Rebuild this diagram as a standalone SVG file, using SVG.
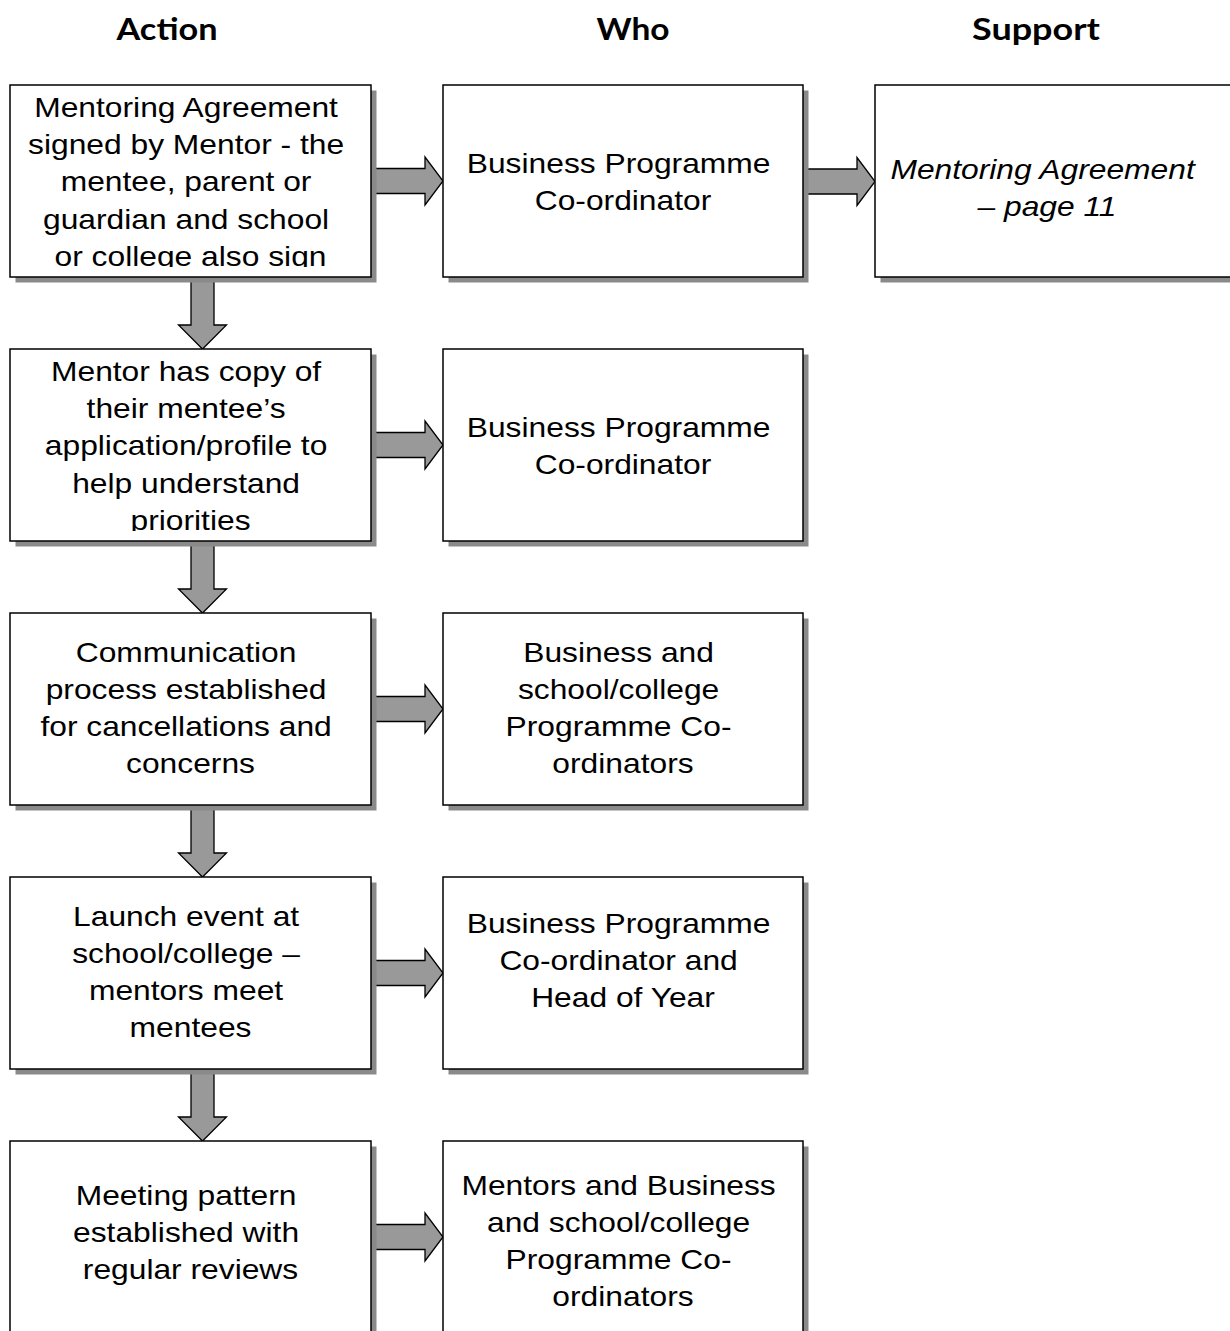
<svg xmlns="http://www.w3.org/2000/svg" width="1230" height="1331" viewBox="0 0 1230 1331">
<style>
.hd{font-family:"Lato","Open Sans","Liberation Sans",sans-serif;font-weight:bold;font-size:30px;text-anchor:middle;fill:#000}
.t{font-family:"Liberation Sans",Arial,sans-serif;font-size:28px;text-anchor:middle;fill:#000}
.it{font-style:italic}
.box{fill:#fff;stroke:#000;stroke-width:1.5}
.sh{fill:#8a8a8a}
.arr{fill:#999;stroke:#000;stroke-width:1.3;stroke-linejoin:miter}
</style>
<defs>
<clipPath id="c0"><rect x="10" y="85" width="361" height="182"/></clipPath>
<clipPath id="c1"><rect x="10" y="349" width="361" height="182"/></clipPath>
<path id="ha" d="M0,-12.5 H54 V-24 L72,0 L54,24 V12.5 H0 Z"/>
<path id="va" d="M-11.5,0 V48 H-24 L0,72 L24,48 H11.5 V0 Z"/>
</defs>
<rect width="1230" height="1331" fill="#fff"/>

<g id="headers">
<text class="hd" x="167" y="40" textLength="101" lengthAdjust="spacingAndGlyphs">Action</text>
<text class="hd" x="633" y="40" textLength="73" lengthAdjust="spacingAndGlyphs">Who</text>
<text class="hd" x="1036" y="40" textLength="128" lengthAdjust="spacingAndGlyphs">Support</text>
</g>

<g id="connectors">
<use href="#ha" class="arr" x="371" y="181"/>
<use href="#ha" class="arr" x="803" y="181.5" transform="translate(0,0)"/>
<use href="#ha" class="arr" x="371" y="445"/>
<use href="#ha" class="arr" x="371" y="709"/>
<use href="#ha" class="arr" x="371" y="973"/>
<use href="#ha" class="arr" x="371" y="1237"/>
<use href="#va" class="arr" x="202.5" y="277"/>
<use href="#va" class="arr" x="202.5" y="541"/>
<use href="#va" class="arr" x="202.5" y="805"/>
<use href="#va" class="arr" x="202.5" y="1069"/>
</g>

<g id="action1">
<rect class="sh" x="15.5" y="90.5" width="361" height="192"/>
<rect class="box" x="10" y="85" width="361" height="192"/>
<g clip-path="url(#c0)">
<text class="t" transform="translate(190.5 0) scale(1.135 1)">
<tspan x="0" y="117.3">Mentoring Agreement</tspan>
<tspan x="0" y="154.4">signed by Mentor - the</tspan>
<tspan x="0" y="191.5">mentee, parent or</tspan>
<tspan x="0" y="228.6">guardian and school</tspan>
<tspan x="0" y="265.7">or college also sign</tspan>
</text>
</g>
</g>

<g id="who1">
<rect class="sh" x="448.5" y="90.5" width="360" height="192"/>
<rect class="box" x="443" y="85" width="360" height="192"/>
<text class="t" transform="translate(623 0) scale(1.135 1)">
<tspan x="0" y="173.3">Business Programme</tspan>
<tspan x="0" y="210.4">Co-ordinator</tspan>
</text>
</g>

<g id="support1">
<rect class="sh" x="880.5" y="90.5" width="360" height="192"/>
<rect class="box" x="875" y="85" width="360" height="192"/>
<text class="t it" transform="translate(1047 0) scale(1.135 1)">
<tspan x="0" y="179">Mentoring Agreement</tspan>
<tspan x="0" y="216">– page 11</tspan>
</text>
</g>

<g id="action2">
<rect class="sh" x="15.5" y="354.5" width="361" height="192"/>
<rect class="box" x="10" y="349" width="361" height="192"/>
<g clip-path="url(#c1)">
<text class="t" transform="translate(190.5 0) scale(1.135 1)">
<tspan x="0" y="381.3">Mentor has copy of</tspan>
<tspan x="0" y="418.4">their mentee’s</tspan>
<tspan x="0" y="455.5">application/profile to</tspan>
<tspan x="0" y="492.6">help understand</tspan>
<tspan x="0" y="529.7">priorities</tspan>
</text>
</g>
</g>

<g id="who2">
<rect class="sh" x="448.5" y="354.5" width="360" height="192"/>
<rect class="box" x="443" y="349" width="360" height="192"/>
<text class="t" transform="translate(623 0) scale(1.135 1)">
<tspan x="0" y="437.3">Business Programme</tspan>
<tspan x="0" y="474.4">Co-ordinator</tspan>
</text>
</g>

<g id="action3">
<rect class="sh" x="15.5" y="618.5" width="361" height="192"/>
<rect class="box" x="10" y="613" width="361" height="192"/>
<text class="t" transform="translate(190.5 0) scale(1.135 1)">
<tspan x="0" y="662">Communication</tspan>
<tspan x="0" y="699.1">process established</tspan>
<tspan x="0" y="736.2">for cancellations and</tspan>
<tspan x="0" y="773.3">concerns</tspan>
</text>
</g>

<g id="who3">
<rect class="sh" x="448.5" y="618.5" width="360" height="192"/>
<rect class="box" x="443" y="613" width="360" height="192"/>
<text class="t" transform="translate(623 0) scale(1.135 1)">
<tspan x="0" y="662">Business and</tspan>
<tspan x="0" y="699.1">school/college</tspan>
<tspan x="0" y="736.2">Programme Co-</tspan>
<tspan x="0" y="773.3">ordinators</tspan>
</text>
</g>

<g id="action4">
<rect class="sh" x="15.5" y="882.5" width="361" height="192"/>
<rect class="box" x="10" y="877" width="361" height="192"/>
<text class="t" transform="translate(190.5 0) scale(1.135 1)">
<tspan x="0" y="926">Launch event at</tspan>
<tspan x="0" y="963.1">school/college –</tspan>
<tspan x="0" y="1000.2">mentors meet</tspan>
<tspan x="0" y="1037.3">mentees</tspan>
</text>
</g>

<g id="who4">
<rect class="sh" x="448.5" y="882.5" width="360" height="192"/>
<rect class="box" x="443" y="877" width="360" height="192"/>
<text class="t" transform="translate(623 0) scale(1.135 1)">
<tspan x="0" y="933">Business Programme</tspan>
<tspan x="0" y="970.1">Co-ordinator and</tspan>
<tspan x="0" y="1007.2">Head of Year</tspan>
</text>
</g>

<g id="action5">
<rect class="sh" x="15.5" y="1146.5" width="361" height="210"/>
<rect class="box" x="10" y="1141" width="361" height="210"/>
<text class="t" transform="translate(190.5 0) scale(1.135 1)">
<tspan x="0" y="1205">Meeting pattern</tspan>
<tspan x="0" y="1242.1">established with</tspan>
<tspan x="0" y="1279.2">regular reviews</tspan>
</text>
</g>

<g id="who5">
<rect class="sh" x="448.5" y="1146.5" width="360" height="210"/>
<rect class="box" x="443" y="1141" width="360" height="210"/>
<text class="t" transform="translate(623 0) scale(1.135 1)">
<tspan x="0" y="1195">Mentors and Business</tspan>
<tspan x="0" y="1232.1">and school/college</tspan>
<tspan x="0" y="1269.2">Programme Co-</tspan>
<tspan x="0" y="1306.3">ordinators</tspan>
</text>
</g>
</svg>
